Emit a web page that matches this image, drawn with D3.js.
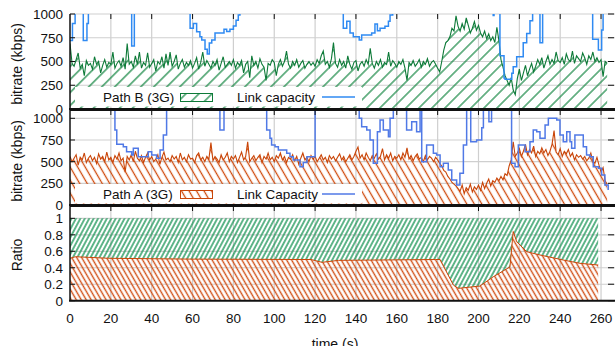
<!DOCTYPE html>
<html>
<head>
<meta charset="utf-8">
<script src="https://cdn.jsdelivr.net/npm/d3@7"></script>
<style>
  body { margin: 0; background: #fff; }
  text { font-family: "Liberation Sans", Arial, sans-serif; fill: #111; }
</style>
</head>
<body>
<div id="chart"></div>
<script>
// sampled once per second, t = 0 .. 263
const pathB = [
  690, 480, 450, 520, 590, 430, 470, 350, 510, 460,
  480, 420, 550, 470, 500, 380, 460, 520, 440, 490,
  470, 600, 430, 480, 510, 450, 540, 420, 690, 470,
  500, 440, 560, 470, 600, 430, 490, 460, 590, 440,
  480, 520, 400, 500, 470, 550, 430, 580, 460, 600,
  450, 500, 570, 420, 480, 520, 440, 490, 460, 510,
  430, 480, 540, 420, 490, 600, 450, 510, 470, 430,
  500, 460, 520, 410, 480, 550, 440, 470, 500, 460,
  520, 430, 490, 460, 510, 380, 470, 500, 330, 560,
  460, 500, 430, 530, 470, 440, 300, 480, 460, 520,
  490, 350, 470, 520, 450, 500, 610, 470, 430, 500,
  460, 520, 440, 480, 510, 430, 470, 500, 460, 490,
  450, 520, 480, 560, 610, 470, 500, 440, 530, 700,
  480, 440, 520, 460, 500, 430, 560, 470, 420, 490,
  510, 400, 470, 500, 450, 520, 470, 640, 480, 430,
  500, 460, 520, 440, 490, 470, 600, 450, 510, 480,
  440, 500, 470, 520, 430, 300, 490, 460, 510, 450,
  480, 520, 440, 500, 470, 530, 450, 490, 510, 470,
  430, 390, 500, 620, 700, 720, 760, 850, 820, 980,
  870, 820, 900, 840, 960, 880, 800, 850, 920, 830,
  880, 800, 760, 820, 740, 790, 720, 760, 700, 860,
  720, 520, 440, 350, 300, 250, 330, 200, 150, 320,
  420, 300, 380, 460, 350, 420, 480, 390, 450, 520,
  470, 540, 430, 500, 560, 470, 520, 480, 600, 510,
  490, 540, 470, 580, 520, 500, 610, 480, 560, 530,
  500, 590, 540, 470, 560, 520, 600, 500, 540, 490,
  520, 340, 500, 480
];

const pathA = [
  560, 500, 540, 580, 460, 550, 520, 600, 490, 540,
  570, 510, 550, 480, 590, 530, 560, 500, 610, 520,
  550, 490, 570, 530, 600, 510, 540, 380, 560, 520,
  580, 500, 620, 540, 510, 570, 490, 550, 600, 520,
  560, 500, 530, 580, 470, 550, 610, 520, 540, 500,
  570, 530, 560, 490, 600, 520, 550, 500, 580, 530,
  540, 490, 570, 600, 520, 550, 500, 560, 530, 720,
  510, 560, 530, 490, 580, 520, 550, 600, 500, 560,
  530, 570, 490, 550, 610, 520, 560, 730, 500, 540,
  570, 510, 550, 580, 490, 560, 530, 600, 520, 550,
  500, 570, 540, 600, 520, 560, 490, 550, 530, 580,
  510, 560, 470, 540, 600, 520, 550, 500, 570, 530,
  560, 500, 540, 580, 520, 550, 490, 570, 530, 560,
  510, 550, 590, 520, 560, 500, 540, 580, 520, 560,
  620, 670, 540, 580, 520, 600, 550, 510, 570, 540,
  590, 530, 560, 650, 520, 580, 540, 600, 510, 560,
  540, 580, 520, 600, 550, 660, 530, 570, 510, 560,
  590, 530, 550, 500, 570, 520, 560, 540, 500, 550,
  520, 480, 450, 400, 380, 330, 300, 260, 240, 220,
  190, 160, 230, 130, 200, 170, 240, 150, 210, 180,
  230, 170, 260, 190, 250, 300, 220, 280, 260, 310,
  280, 330, 290, 360, 340, 450, 520, 730, 560, 600,
  650, 560, 620, 700, 580, 640, 600, 680, 560, 620,
  590, 660, 600, 640, 570, 620, 700, 860, 610, 580,
  650, 560, 620, 590, 640, 560, 600, 520, 580, 550,
  570, 530, 560, 510, 540, 600, 500, 480, 550, 460,
  380, 430, 280, 240
];

// link capacity, step changes (time s, kbps); 1200/1300 = off the top of the plot
const capBTime = [0, 1.2, 2.5, 6.5, 8.3, 9.0, 30.2, 31.5, 58.8, 60.4, 62.0, 63.6, 64.5, 66.1, 67.2, 68.2,
  69.4, 71.0, 73.4, 75.4, 76.7, 78.3, 80.0, 81.3, 82.4, 83.2, 133.8, 135.5, 137.1, 138.7, 141.6,
  142.8, 147.7, 149.3, 150.5, 151.8, 154.2, 155.9, 156.7, 158.0, 207.2, 207.6, 210.5, 212.5,
  213.0, 216.3, 217.0, 218.7, 221.9, 223.6, 225.2, 226.5, 230.1, 231.4, 255.9, 258.7, 260.3,
  261.0, 263.5];
const capBValue = [720, 900, 1200, 720, 900, 1200, 663, 1200, 850, 900, 814, 760, 726, 630, 580, 695,
  726, 800, 800, 840, 815, 840, 875, 935, 990, 1200, 850, 925, 800, 760, 726,
  780, 800, 895, 824, 850, 870, 925, 990, 1200, 985, 1200, 560, 326,
  312, 376, 445, 551, 698, 796, 929, 1200, 698, 1200, 733, 621, 832,
  1200, 1200];

const capATime = [0, 22.0, 22.9, 26.1, 27.7, 30.2, 31.0, 33.4, 38.3, 40.0, 42.4, 44.1, 45.7, 47.3,
  73.4, 75.4, 96.3, 97.9, 98.7, 100.4, 102.0, 106.1, 107.7, 109.3, 112.6, 114.2, 116.0, 120.0,
  141.6, 142.8, 145.3, 146.9, 148.5, 150.5, 151.8, 153.4, 155.9, 156.7, 158.3, 164.8, 167.3,
  169.7, 171.4, 172.2, 174.6, 177.9, 179.5, 181.2, 182.8, 185.2, 186.9, 189.3, 190.9, 192.6,
  194.2, 196.2, 199.1, 201.6, 202.4, 205.1, 206.4, 216.2, 217.9, 219.5, 222.8, 225.2, 226.8,
  228.5, 230.1, 232.6, 234.2, 238.3, 239.9, 241.5, 243.2, 244.8, 245.6, 247.2, 251.3, 252.9,
  254.6, 256.2, 258.7, 260.3, 261.9, 263.5];
const capAValue = [1300, 865, 700, 673, 615, 577, 654, 557, 615, 577, 538, 634, 807, 1300,
  865, 1300, 865, 769, 692, 673, 634, 596, 557, 519, 440, 490, 557, 1300,
  1000, 903, 865, 750, 481, 846, 981, 865, 788, 1000, 1300, 865, 960,
  846, 1300, 500, 692, 596, 577, 442, 481, 404, 288, 231, 366, 692,
  1300, 730, 750, 890, 1300, 960, 1300, 481, 442, 692, 615, 730, 865,
  846, 769, 923, 1000, 980, 807, 730, 846, 730, 654, 807, 673, 577,
  557, 442, 423, 346, 231, 173];

// share of path A in the total rate
const ratioTime = [0, 2.7, 19, 60, 118, 123.4, 131.5, 179, 181.2, 187.7, 190.1, 200.7, 207.2,
  215.4, 217, 218.7, 223.6, 230.1, 241.5, 249.7, 258.6];
const ratioA = [0.515, 0.534, 0.515, 0.505, 0.50, 0.466, 0.49, 0.50, 0.50, 0.19, 0.15, 0.178, 0.29,
  0.41, 0.84, 0.716, 0.595, 0.555, 0.494, 0.454, 0.433];

const xTicks = d3.range(0, 261, 20);
const rateTicks = [0, 250, 500, 750, 1000];
const ratioTicks = [0, 0.2, 0.4, 0.6, 0.8, 1];

const green = "#0d7a38", orange = "#c94508", blueB = "#2f8af2", blueA = "#5079e6";
const width = 615, height = 346;

const svg = d3.select("#chart").append("svg")
  .attr("width", width).attr("height", height);

const defs = svg.append("defs");
const hatch = (id, d, angle, color, sw) => {
  const p = defs.append("pattern")
    .attr("id", id)
    .attr("patternUnits", "userSpaceOnUse")
    .attr("width", d).attr("height", 10)
    .attr("patternTransform", `rotate(${angle})`);
  p.append("line")
    .attr("x1", d / 2).attr("x2", d / 2)
    .attr("y1", -1).attr("y2", 11)
    .attr("stroke", color).attr("stroke-width", sw);
};
hatch("hB", 9.2, 45, "#10843f", 1.2);
hatch("hA", 6.5, -30, "#cf4a0c", 1.3);
hatch("rG", 3.9, 28, "#1c9658", 1.4);
hatch("rA", 4.3, -30, "#d2521a", 1.4);

const x = d3.scaleLinear().domain([0, 266]).range([70, 613.3]);

const yB = d3.scaleLinear().domain([0, 1000]).range([109, 14]);
const yA = d3.scaleLinear().domain([0, 1096]).range([205, 110]);
const yR = d3.scaleLinear().domain([0, 1.15]).range([300.7, 206]);

const drawFrame = (g, y, ticks, fmt) => {
  const [bottom, top] = y.range();
  const grid = g.append("g").attr("stroke", "#cfcfcf").attr("stroke-width", 1.2);
  grid.selectAll(".vx").data(xTicks.slice(1)).enter().append("line")
    .attr("x1", d => x(d)).attr("x2", d => x(d))
    .attr("y1", top).attr("y2", bottom);
  grid.selectAll(".hy").data(ticks.slice(1)).enter().append("line")
    .attr("x1", x(0)).attr("x2", width)
    .attr("y1", d => y(d)).attr("y2", d => y(d));
  g.append("g").selectAll("text").data(ticks).enter().append("text")
    .attr("x", 63).attr("y", d => y(d)).attr("dy", "0.36em")
    .attr("text-anchor", "end").style("font-size", "13.5px")
    .text(fmt);
  return grid;
};

const drawAxes = (g, y, ticks, drawTop) => {
  const [bottom, top] = y.range();
  const ax = g.append("g").attr("stroke", "#111");
  ax.append("line").attr("x1", x(0)).attr("x2", x(0)).attr("y1", top).attr("y2", bottom)
    .attr("stroke-width", 1.5);
  ax.append("line").attr("x1", x(0) - 1).attr("x2", width).attr("y1", bottom).attr("y2", bottom)
    .attr("stroke-width", 2);
  if (drawTop) {
    ax.append("line").attr("x1", x(0)).attr("x2", width).attr("y1", top).attr("y2", top)
      .attr("stroke-width", 2);
  }
  ax.selectAll(".ty").data(ticks).enter().append("line")
    .attr("x1", x(0)).attr("x2", x(0) + 5)
    .attr("y1", d => y(d)).attr("y2", d => y(d)).attr("stroke-width", 1);
  ax.selectAll(".tr").data(ticks).enter().append("line")
    .attr("x1", 608).attr("x2", 614)
    .attr("y1", d => y(d)).attr("y2", d => y(d)).attr("stroke-width", 1);
  ax.selectAll(".tt").data(xTicks.slice(1)).enter().append("line")
    .attr("x1", d => x(d)).attr("x2", d => x(d))
    .attr("y1", top).attr("y2", top + 5).attr("stroke-width", 1);
};

const clip = (id, y) => {
  const [bottom, top] = y.range();
  defs.append("clipPath").attr("id", id).append("rect")
    .attr("x", x(0)).attr("y", top).attr("width", width - x(0)).attr("height", bottom - top);
};
clip("cB", yB); clip("cA", yA); clip("cR", yR);

const secs = pathB.map((d, i) => i);

const legend = (g, y0, label, pat, color, capLabel, capColor) => {
  g.append("rect").attr("x", 75).attr("y", y0 - 10).attr("width", 287).attr("height", 19.5)
    .attr("fill", "#fff");
  g.append("text").attr("x", 103).attr("y", y0 + 5).style("font-size", "13.5px").text(label);
  g.append("rect").attr("x", 180.5).attr("y", y0 - 3.5).attr("width", 32).attr("height", 8)
    .attr("fill", `url(#${pat})`).attr("stroke", color).attr("stroke-width", 1);
  g.append("text").attr("x", 237).attr("y", y0 + 5).style("font-size", "13.5px").text(capLabel);
  g.append("line").attr("x1", 322).attr("x2", 355).attr("y1", y0).attr("y2", y0)
    .attr("stroke", capColor).attr("stroke-width", 1.5);
};

const ratePanel = (y, values, capT, capV, pat, color, capColor, clipId, label, capLabel, legY) => {
  const g = svg.append("g");
  drawFrame(g, y, rateTicks, d => d);
  const body = g.append("g").attr("clip-path", `url(#${clipId})`);
  body.append("path").datum(values)
    .attr("fill", `url(#${pat})`)
    .attr("d", d3.area().x((d, i) => x(secs[i])).y0(y(0)).y1(d => y(d)));
  body.append("path").datum(values)
    .attr("fill", "none").attr("stroke", color).attr("stroke-width", 1.1)
    .attr("d", d3.line().x((d, i) => x(secs[i])).y(d => y(d)));
  body.append("path").datum(capV)
    .attr("fill", "none").attr("stroke", capColor).attr("stroke-width", 1.5)
    .attr("d", d3.line().curve(d3.curveStepAfter).x((d, i) => x(capT[i])).y(d => y(d)));
  legend(g, legY, label, pat, color, capLabel, capColor);
  return g;
};

const gB = ratePanel(yB, pathB, capBTime, capBValue, "hB", green, blueB, "cB",
  "Path B (3G)", "Link capacity", 97);
const gA = ratePanel(yA, pathA, capATime, capAValue, "hA", orange, blueA, "cA",
  "Path A (3G)", "Link Capacity", 194);

// ratio panel
const gR = svg.append("g");
drawFrame(gR, yR, ratioTicks, d => d);
const rBody = gR.append("g").attr("clip-path", "url(#cR)");
rBody.append("path").datum(ratioA)
  .attr("fill", "url(#rG)")
  .attr("d", d3.area().x((d, i) => x(ratioTime[i])).y0(yR(1)).y1(d => yR(d)));
rBody.append("path").datum(ratioA)
  .attr("fill", "url(#rA)")
  .attr("d", d3.area().x((d, i) => x(ratioTime[i])).y0(yR(0)).y1(d => yR(d)));
rBody.append("path").datum(ratioA)
  .attr("fill", "none").attr("stroke", orange).attr("stroke-width", 1)
  .attr("d", d3.line().x((d, i) => x(ratioTime[i])).y(d => yR(d)));

drawAxes(gB, yB, rateTicks, false);
drawAxes(gA, yA, rateTicks, true);
drawAxes(gR, yR, ratioTicks, true);

// x tick labels
svg.append("g").selectAll("text").data(xTicks).enter().append("text")
  .attr("x", d => x(d)).attr("y", 323)
  .attr("text-anchor", "middle").style("font-size", "13.5px")
  .text(d => d);

// axis titles
const yTitle = (cy, txt) => svg.append("text")
  .attr("transform", `translate(22,${cy}) rotate(-90)`)
  .attr("text-anchor", "middle").style("font-size", "14px").text(txt);
yTitle(64, "bitrate (kbps)");
yTitle(161, "bitrate (kbps)");
yTitle(255, "Ratio");

svg.append("text").attr("x", 335).attr("y", 348.5)
  .attr("text-anchor", "middle").style("font-size", "14px").text("time (s)");
</script>
</body>
</html>
